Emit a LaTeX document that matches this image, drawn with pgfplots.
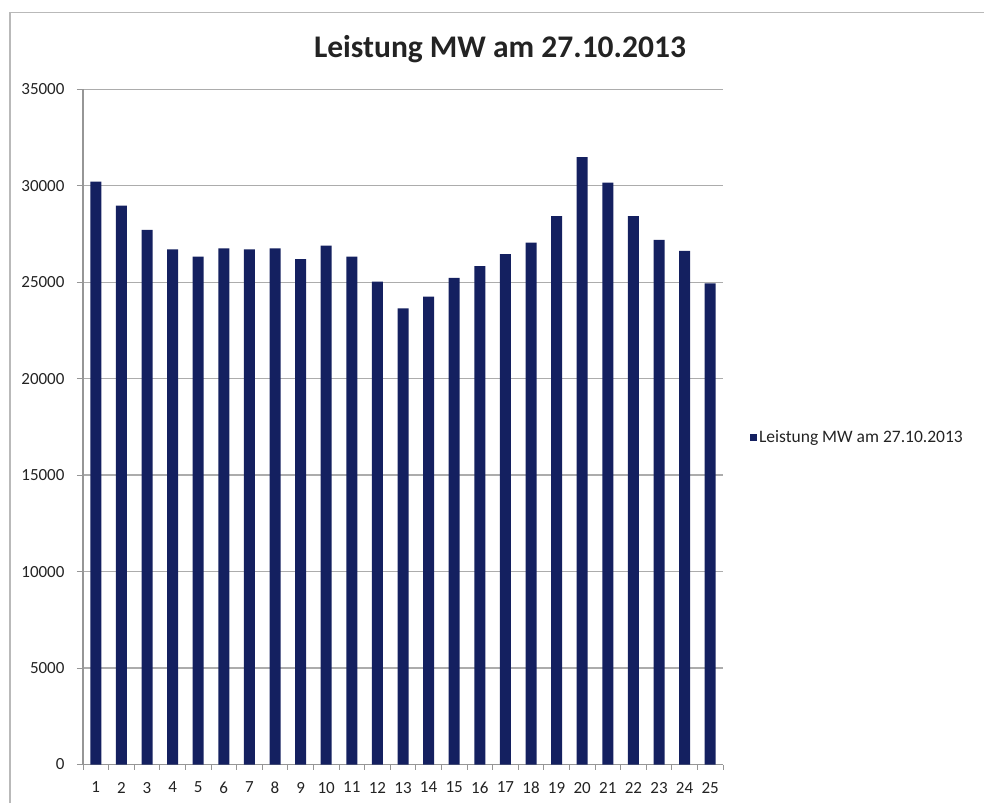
\documentclass[border=0pt]{standalone}
\usepackage{pgfplots}
\pgfplotsset{compat=1.18}
\usepackage{fontspec}
\setmainfont{Carlito}
\definecolor{barblue}{RGB}{20,32,96}
\definecolor{gridgray}{RGB}{172,172,172}
\definecolor{axisgray}{RGB}{150,150,150}
\definecolor{bordergray}{RGB}{185,185,185}
\definecolor{txt}{RGB}{35,35,35}
\begin{document}
\begin{tikzpicture}[x=1pt,y=1pt]
\useasboundingbox (0,0) rectangle (984,803);
\draw[color=bordergray, line width=1.5pt] (10,0) -- (10,790.5) -- (984,790.5);
\node[anchor=base, font=\fontsize{31.5}{36}\selectfont\bfseries, text=txt, inner sep=0pt] at (500,745) {Leistung MW am 27.10.2013};
\begin{axis}[
  at={(83pt,38.5pt)}, anchor=south west,
  scale only axis, width=640pt, height=675.2pt,
  xmin=0.5, xmax=25.5, ymin=0, ymax=35000,
  ytick={0,5000,...,35000},
  xtick={1,...,25},
  minor xtick={0.5,1.5,...,25.5},
  scaled y ticks=false,
  /pgf/number format/1000 sep={},
  /pgf/number format/assume math mode=true,
  axis x line*=bottom, axis y line*=left,
  axis line style={axisgray, line width=1.2pt, -},
  tick align=outside,
  major tick length=6pt, minor tick length=5pt,
  tick style={axisgray, line width=1pt},
  major x tick style={draw=none},
  ymajorgrids,
  major grid style={gridgray, line width=1.3pt},
  ticklabel style={font=\fontsize{17}{20}\selectfont, text=txt},
  yticklabel style={xshift=-9pt},
  xticklabel style={yshift=-8pt},
  legend style={at={(1.042,0.485)}, anchor=west, draw=none, fill=none,
    font=\fontsize{17.5}{20}\selectfont, text=txt, inner sep=0pt},
  legend image code/.code={\fill[barblue] (0pt,-3.5pt) rectangle (7pt,3.5pt);},
]
\addplot[ybar, bar width=11pt, fill=barblue, draw=none] coordinates {
(1,30210) (2,28970) (3,27710) (4,26700) (5,26320) (6,26760) (7,26700) (8,26760)
(9,26200) (10,26890) (11,26320) (12,25030) (13,23650) (14,24250) (15,25230)
(16,25840) (17,26460) (18,27050) (19,28430) (20,31480) (21,30160) (22,28430)
(23,27190) (24,26620) (25,24940)
};
\addlegendentry{Leistung MW am 27.10.2013}
\end{axis}
\end{tikzpicture}
\end{document}
